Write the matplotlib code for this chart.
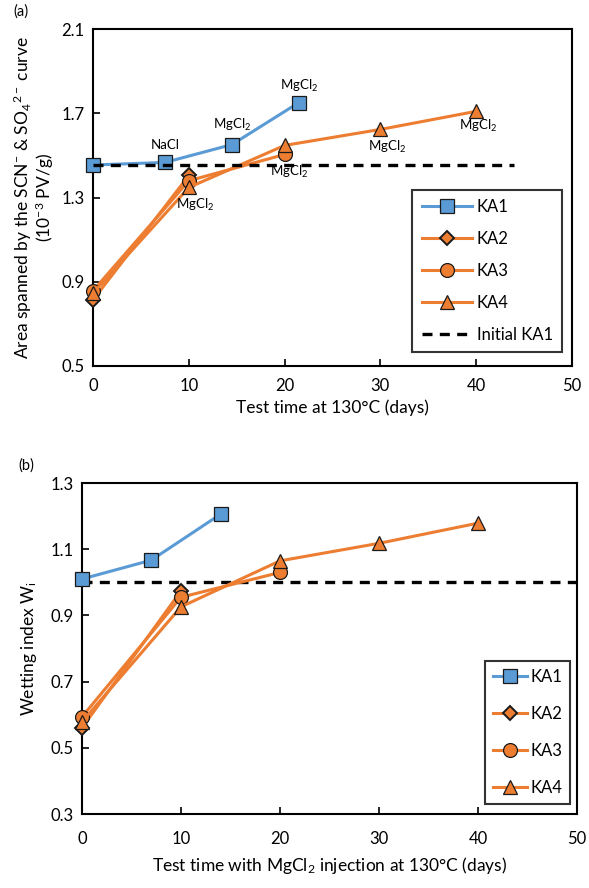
import matplotlib
matplotlib.use("Agg")
import matplotlib.pyplot as plt

plt.rcParams['font.family'] = ['Lato', 'DejaVu Sans']
plt.rcParams['mathtext.fontset'] = 'custom'
plt.rcParams['mathtext.rm'] = 'Lato'
plt.rcParams['mathtext.it'] = 'Lato:italic'

BLUE = '#5B9BD5'
ORANGE = '#ED7D31'

# ---- Panel (a) data ----
a_ka1_x = [0, 7.5, 14.5, 21.5]
a_ka1_y = [1.455, 1.467, 1.552, 1.752]
a_ka2_x = [0, 10]
a_ka2_y = [0.814, 1.405]
a_ka3_x = [0, 10, 20]
a_ka3_y = [0.857, 1.38, 1.505]
a_ka4_x = [0, 10, 20, 30, 40]
a_ka4_y = [0.845, 1.348, 1.548, 1.624, 1.71]
a_initial = 1.455
a_labels = [("NaCl", 7.5, 1.55), ("MgCl$_2$", 14.5, 1.645), ("MgCl$_2$", 21.5, 1.83),
            ("MgCl$_2$", 10.6, 1.265), ("MgCl$_2$", 20.5, 1.42), ("MgCl$_2$", 30.7, 1.54),
            ("MgCl$_2$", 40.2, 1.64)]

# ---- Panel (b) data ----
b_ka1_x = [0, 7, 14]
b_ka1_y = [1.01, 1.067, 1.206]
b_ka2_x = [0, 10]
b_ka2_y = [0.56, 0.974]
b_ka3_x = [0, 10, 20]
b_ka3_y = [0.593, 0.955, 1.03]
b_ka4_x = [0, 10, 20, 30, 40]
b_ka4_y = [0.578, 0.926, 1.065, 1.118, 1.179]
b_initial = 1.0

fig = plt.figure(figsize=(5.89, 8.88), dpi=100)
ax1 = fig.add_axes([0.158, 0.588, 0.813, 0.379])
ax2 = fig.add_axes([0.139, 0.0833, 0.841, 0.3727])

LW = 2.2
MS = 10
def plot_series(ax, kx, ky, color, marker, ms, label, z, mew=0.9):
    ax.plot(kx, ky, color=color, lw=LW, marker=marker, ms=ms, mfc=color,
            mec='#1a1a1a', mew=mew, label=label, zorder=z, clip_on=False)

for ax, d in [(ax1, (a_ka1_x, a_ka1_y, a_ka2_x, a_ka2_y, a_ka3_x, a_ka3_y, a_ka4_x, a_ka4_y)),
              (ax2, (b_ka1_x, b_ka1_y, b_ka2_x, b_ka2_y, b_ka3_x, b_ka3_y, b_ka4_x, b_ka4_y))]:
    plot_series(ax, d[0], d[1], BLUE, 's', MS, 'KA1', 3)
    plot_series(ax, d[2], d[3], ORANGE, 'D', 7.5, 'KA2', 4, mew=1.4)
    plot_series(ax, d[4], d[5], ORANGE, 'o', MS, 'KA3', 5)
    plot_series(ax, d[6], d[7], ORANGE, '^', MS, 'KA4', 6)
    ax.set_xlim(0, 50)
    ax.set_xticks([0, 10, 20, 30, 40, 50])
    ax.tick_params(direction='in', length=5, width=1.2, labelsize=12, pad=6)
    for s in ax.spines.values():
        s.set_linewidth(1.5)

ax1.plot([0, 44], [a_initial, a_initial], color='black', lw=2.4, ls=(0, (3, 2.2)),
         zorder=7, label='Initial KA1')
ax2.plot([0, 50], [b_initial, b_initial], color='black', lw=2.4, ls=(0, (3, 2.2)), zorder=2)

ax1.set_ylim(0.5, 2.1)
ax1.set_yticks([0.5, 0.9, 1.3, 1.7, 2.1])
ax1.set_yticklabels(['0.5', '0.9', '1.3', '1.7', '2.1'])
ax2.set_ylim(0.3, 1.3)
ax2.set_yticks([0.3, 0.5, 0.7, 0.9, 1.1, 1.3])
ax2.set_yticklabels(['0.3', '0.5', '0.7', '0.9', '1.1', '1.3'])
ax1.tick_params(axis='x', pad=9)
ax2.tick_params(axis='x', pad=12)

for txt, x, y in a_labels:
    ax1.text(x, y, txt, ha='center', va='center', fontsize=9.5, zorder=8)

ax1.set_xlabel('Test time at 130°C (days)', fontsize=12.5, labelpad=4)
ax1.set_ylabel('Area spanned by the SCN$^{-}$ & SO$_4$$^{2-}$ curve\n(10$^{-3}$ PV/g)',
               fontsize=12.5, labelpad=4, linespacing=1.0)
ax2.set_xlabel('Test time with MgCl$_2$ injection at 130°C (days)', fontsize=12.5, labelpad=6)
ax2.set_ylabel('Wetting index W$_\\mathregular{i}$', fontsize=12.5, labelpad=8)

fig.text(13/589, 1 - 12/888, '(a)', fontsize=10.5, va='center', ha='left')
fig.text(18/589, 1 - 466/888, '(b)', fontsize=10.5, va='center', ha='left')

h1, l1 = ax1.get_legend_handles_labels()
lg1 = ax1.legend(h1, l1, loc='lower right', bbox_to_anchor=(0.979, 0.042), fontsize=12,
                 frameon=True, fancybox=False, edgecolor='black', handlelength=3.0,
                 labelspacing=0.95, borderpad=0.55, handletextpad=0.3, borderaxespad=0)
lg1.get_frame().set_linewidth(1.5)
h2, l2 = ax2.get_legend_handles_labels()
lg2 = ax2.legend(h2, l2, loc='lower right', bbox_to_anchor=(0.986, 0.03), fontsize=12,
                 frameon=True, fancybox=False, edgecolor='black', handlelength=2.0,
                 labelspacing=1.25, borderpad=0.5, handletextpad=0.2, borderaxespad=0)
lg2.get_frame().set_linewidth(1.5)

fig.savefig('out.png', dpi=100)
